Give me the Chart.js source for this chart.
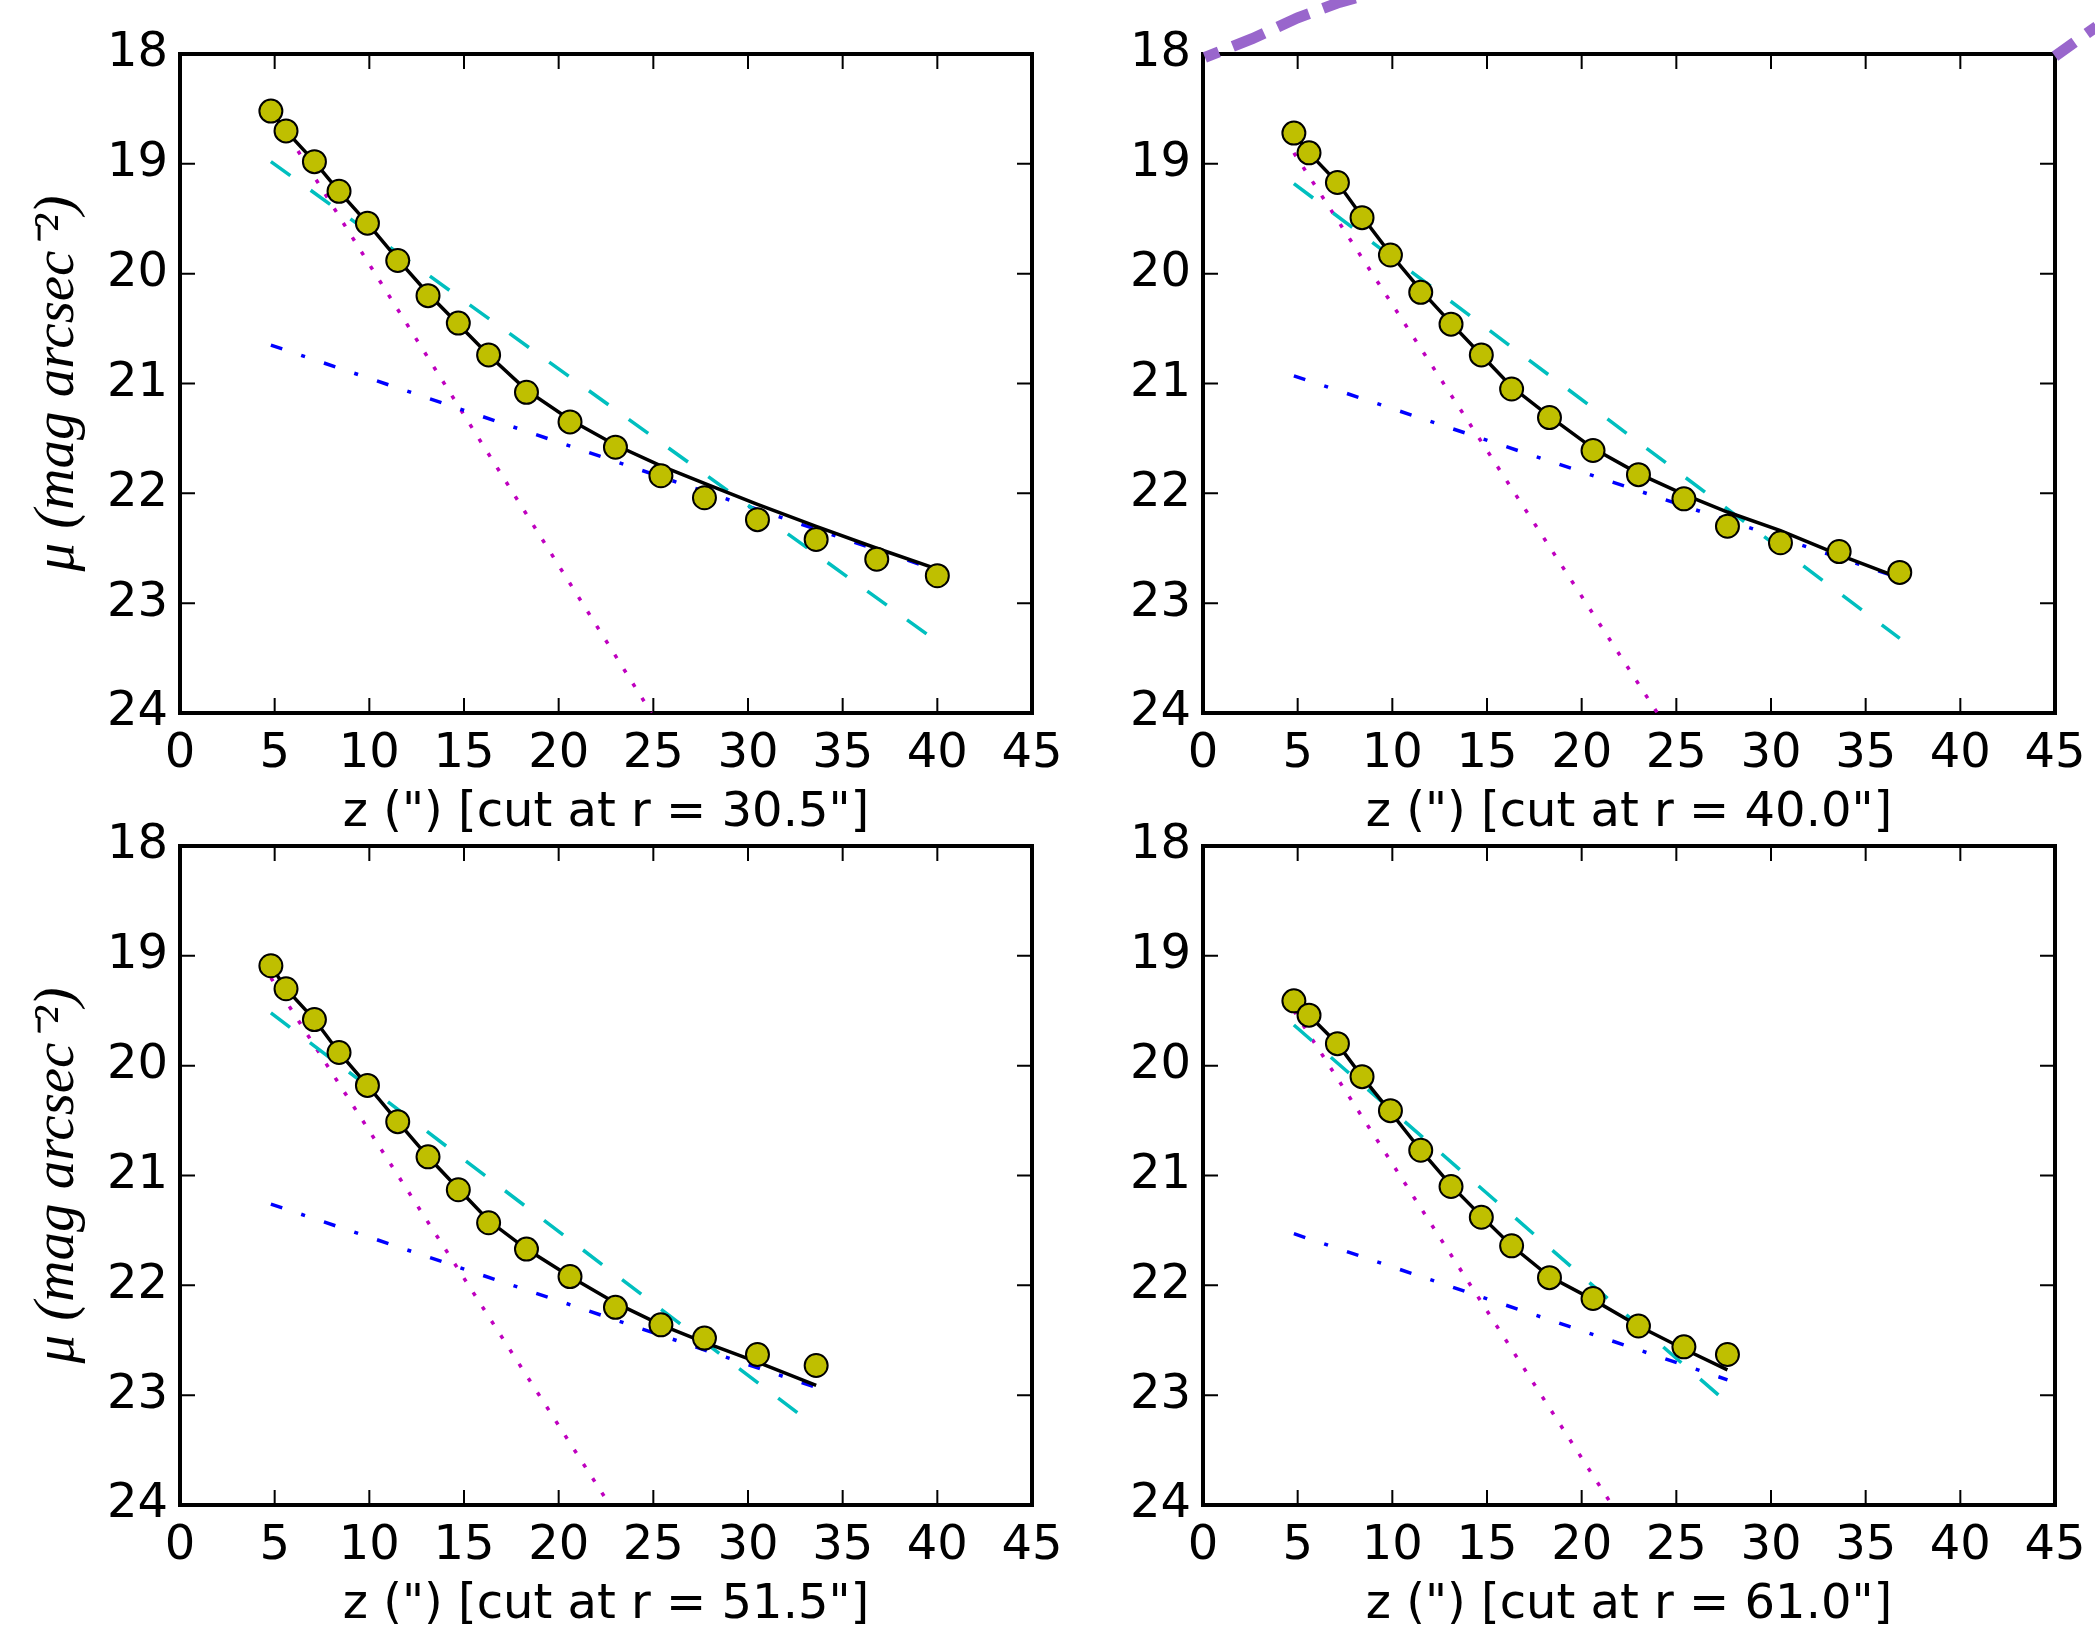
<!DOCTYPE html>
<html>
<head>
<meta charset="utf-8">
<script src="https://cdn.jsdelivr.net/npm/chart.js@4.4.0/dist/chart.umd.min.js"></script>
<style>
  html, body { margin: 0; padding: 0; background: #fff; }
  #fig { position: relative; width: 2095px; height: 1626px; }
  #fig canvas { position: absolute; left: 0; top: 0; }
</style>
</head>
<body>
<div id="fig">
  <canvas id="cut305" width="2095" height="1626"></canvas>
  <canvas id="cut400" width="2095" height="1626"></canvas>
  <canvas id="cut515" width="2095" height="1626"></canvas>
  <canvas id="cut610" width="2095" height="1626"></canvas>
</div>
<script>
// z of the measured points (arcsec), same for every cut
var zPts = [4.8, 5.6, 7.1, 8.4, 9.9, 11.5, 13.1, 14.7, 16.3, 18.3, 20.6, 23.0, 25.4, 27.7, 30.5, 33.6, 36.8, 40.0];

// cut at r = 30.5"
var obs305 = [18.52, 18.70, 18.98, 19.25, 19.54, 19.88, 20.20, 20.45, 20.74, 21.08, 21.35, 21.58, 21.84, 22.04, 22.24, 22.42, 22.60, 22.75];
var fit305 = [18.52, 18.70, 18.98, 19.25, 19.54, 19.87, 20.18, 20.46, 20.74, 21.06, 21.33, 21.56, 21.75, 21.91, 22.10, 22.30, 22.50, 22.69];
var singleX305 = [4.8, 40.0], singleY305 = [18.98, 23.35];
var thinX305 = [4.8, 24.9], thinY305 = [18.49, 24.0];
var thickX305 = [4.8, 40.0], thickY305 = [20.65, 22.70];

// cut at r = 40.0"
var obs400 = [18.72, 18.90, 19.17, 19.49, 19.83, 20.17, 20.46, 20.74, 21.05, 21.31, 21.61, 21.83, 22.05, 22.30, 22.45, 22.53, 22.72];
var fit400 = [18.72, 18.90, 19.17, 19.48, 19.82, 20.15, 20.45, 20.74, 21.03, 21.30, 21.59, 21.82, 22.01, 22.17, 22.34, 22.56, 22.77];
var singleX400 = [4.8, 36.8], singleY400 = [19.18, 23.32];
var thinX400 = [4.8, 24.0], thinY400 = [18.90, 24.0];
var thickX400 = [4.8, 36.8], thickY400 = [20.93, 22.77];

// cut at r = 51.5"
var obs515 = [19.09, 19.30, 19.58, 19.88, 20.18, 20.51, 20.83, 21.13, 21.43, 21.67, 21.92, 22.20, 22.36, 22.48, 22.63, 22.73];
var fit515 = [19.09, 19.30, 19.58, 19.88, 20.18, 20.51, 20.83, 21.12, 21.41, 21.67, 21.92, 22.16, 22.36, 22.52, 22.70, 22.91];
var singleX515 = [4.8, 33.6], singleY515 = [19.52, 23.29];
var thinX515 = [4.8, 22.7], thinY515 = [19.20, 24.0];
var thickX515 = [4.8, 33.6], thickY515 = [21.26, 22.93];

// cut at r = 61.0"
var obs610 = [19.41, 19.54, 19.80, 20.10, 20.41, 20.77, 21.10, 21.38, 21.64, 21.93, 22.12, 22.37, 22.56, 22.63];
var fit610 = [19.41, 19.54, 19.80, 20.10, 20.42, 20.77, 21.09, 21.37, 21.64, 21.92, 22.13, 22.37, 22.58, 22.77];
var singleX610 = [4.8, 27.7], singleY610 = [19.63, 23.07];
var thinX610 = [4.8, 21.6], thinY610 = [19.50, 24.0];
var thickX610 = [4.8, 27.7], thickY610 = [21.53, 22.86];

// the thick purple stroke crossing the top of the r = 40.0" panel
var markLeftX = [0.1, 2.6, 5.0, 7.2, 9.9], markLeftY = [18.03, 17.86, 17.67, 17.53, 17.40];
var markRightX = [45.0, 47.2], markRightY = [18.02, 17.75];

var xTicks = { min: 0, max: 45, step: 5 };
var yTicks = { min: 18, max: 24, step: 1 };

var tickFont = { family: 'DejaVu Sans', size: 48 };

function pairs(xs, ys) {
    return ys.map(function (y, i) { return { x: xs[i], y: y }; });
}

// box with inward ticks on all four sides, like the old matplotlib style
var frameTicks = {
    id: 'frameTicks',
    beforeDatasetsDraw: function (chart) {
        var ctx = chart.ctx, a = chart.chartArea;
        var xs = chart.scales.x, ys = chart.scales.y;
        ctx.save();
        ctx.strokeStyle = '#000';
        ctx.lineWidth = 2;
        ctx.beginPath();
        xs.ticks.forEach(function (t) {
            var px = xs.getPixelForValue(t.value);
            ctx.moveTo(px, a.top); ctx.lineTo(px, a.top + 15);
            ctx.moveTo(px, a.bottom); ctx.lineTo(px, a.bottom - 15);
        });
        ys.ticks.forEach(function (t) {
            var py = ys.getPixelForValue(t.value);
            ctx.moveTo(a.left, py); ctx.lineTo(a.left + 15, py);
            ctx.moveTo(a.right, py); ctx.lineTo(a.right - 15, py);
        });
        ctx.stroke();
        ctx.lineWidth = 4;
        ctx.strokeRect(a.left, a.top, a.right - a.left, a.bottom - a.top);
        ctx.restore();
    }
};

function lineSet(xs, ys, color, dash, width) {
    return {
        data: pairs(xs, ys),
        showLine: true,
        borderColor: color,
        borderWidth: width,
        borderDash: dash,
        pointRadius: 0,
        fill: false
    };
}

function makePanel(id, cut, box, showYTitle, d, extra) {
    var datasets = [
        {
            data: pairs(zPts, d.obs),
            pointRadius: 11.5,
            pointBackgroundColor: '#bfbf00',
            pointBorderColor: '#000',
            pointBorderWidth: 2,
            showLine: false
        },
        lineSet(zPts, d.fit, '#000', [], 3.5),
        lineSet(d.singleX, d.singleY, '#00bfbf', [24, 25], 3.5),
        lineSet(d.thickX, d.thickY, '#0000ff', [12, 20, 4, 20], 3.5),
        lineSet(d.thinX, d.thinY, '#bf00bf', [4, 13], 3.5)
    ];
    if (extra) datasets = extra.concat(datasets);

    return new Chart(document.getElementById(id), {
        type: 'scatter',
        data: { datasets: datasets },
        plugins: [frameTicks],
        options: {
            responsive: false,
            animation: false,
            layout: {
                autoPadding: false,
                padding: { left: 0, right: 2095 - box.right, top: box.top, bottom: 1626 - box.bottom - 130 }
            },
            plugins: { legend: { display: false }, tooltip: { enabled: false } },
            scales: {
                x: {
                    type: 'linear',
                    min: xTicks.min, max: xTicks.max,
                    grid: { display: false, drawTicks: false },
                    border: { display: false },
                    ticks: { stepSize: xTicks.step, padding: 13, color: '#000', font: tickFont, maxRotation: 0, autoSkip: false },
                    title: {
                        display: true,
                        text: 'z (") [cut at r = ' + cut + '"]',
                        color: '#000',
                        font: tickFont,
                        padding: { top: 0, bottom: 1 }
                    },
                    afterFit: function (s) { s.height = 130; s.paddingLeft = 0; s.paddingRight = 0; }
                },
                y: {
                    type: 'linear',
                    reverse: true,
                    min: yTicks.min, max: yTicks.max,
                    grid: { display: false, drawTicks: false },
                    border: { display: false },
                    ticks: { stepSize: yTicks.step, padding: 12, color: '#000', font: tickFont, autoSkip: false },
                    title: {
                        display: showYTitle,
                        text: 'μ (mag arcsec⁻²)',
                        color: '#000',
                        font: { family: 'Liberation Serif', style: 'italic', size: 57 },
                        padding: { top: 24, bottom: 0 }
                    },
                    afterFit: function (s) { s.width = box.left; s.paddingTop = 0; s.paddingBottom = 0; }
                }
            }
        }
    });
}

var purple = [
    { data: pairs(markLeftX, markLeftY), showLine: true, clip: false, borderColor: '#9966cc', borderWidth: 11, borderDash: [34, 15], borderDashOffset: 19, pointRadius: 0 },
    { data: pairs(markRightX, markRightY), showLine: true, clip: false, borderColor: '#9966cc', borderWidth: 11, borderDash: [24, 15], pointRadius: 0 }
];

makePanel('cut305', '30.5', { left: 180, right: 1032, top: 54, bottom: 713 }, true,
    { obs: obs305, fit: fit305, singleX: singleX305, singleY: singleY305, thinX: thinX305, thinY: thinY305, thickX: thickX305, thickY: thickY305 });
makePanel('cut400', '40.0', { left: 1203, right: 2055, top: 54, bottom: 713 }, false,
    { obs: obs400, fit: fit400, singleX: singleX400, singleY: singleY400, thinX: thinX400, thinY: thinY400, thickX: thickX400, thickY: thickY400 }, purple);
makePanel('cut515', '51.5', { left: 180, right: 1032, top: 846, bottom: 1505 }, true,
    { obs: obs515, fit: fit515, singleX: singleX515, singleY: singleY515, thinX: thinX515, thinY: thinY515, thickX: thickX515, thickY: thickY515 });
makePanel('cut610', '61.0', { left: 1203, right: 2055, top: 846, bottom: 1505 }, false,
    { obs: obs610, fit: fit610, singleX: singleX610, singleY: singleY610, thinX: thinX610, thinY: thinY610, thickX: thickX610, thickY: thickY610 });
</script>
</body>
</html>
